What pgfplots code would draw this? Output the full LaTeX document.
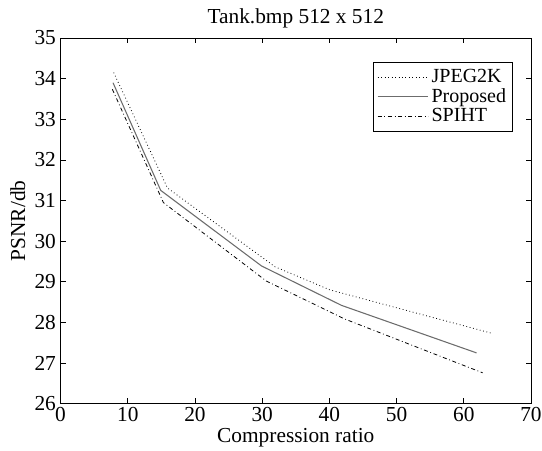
\documentclass[border=0pt]{standalone}
\usepackage{pgfplots}
\pgfplotsset{compat=1.18}
\usepackage{fontspec}
\setmainfont{Liberation Serif}
\begin{document}
\fontsize{16}{19}\selectfont
\begin{tikzpicture}
\begin{axis}[
    width=352.5pt, height=274pt, scale only axis,
    xmin=0, xmax=70, ymin=26, ymax=35,
    xtick={0,10,...,70}, ytick={26,27,...,35},
    tick align=inside, major tick length=4pt,
    tick style={black, line width=0.6pt},
    axis line style={line width=0.6pt},
    /pgf/number format/assume math mode=true,
    ticklabel style={font=\fontsize{16}{19}\selectfont},
    xticklabel style={yshift=3pt},
    yticklabel style={xshift=2pt},
    title={Tank.bmp 512 x 512},
    title style={font=\fontsize{16}{19}\selectfont, yshift=-4pt},
    xlabel={Compression ratio},
    ylabel={PSNR/db},
    label style={font=\fontsize{16}{19}\selectfont},
    xlabel style={yshift=6pt},
    ylabel style={yshift=-4pt},
    legend style={at={(0.962,0.934)}, anchor=north east, draw=black,
        line width=0.5pt, font=\fontsize{15}{17}\selectfont,
        inner sep=3pt, row sep=-2pt, cells={anchor=west}},
    legend cell align=left,
    legend image code/.code={\draw[#1] (0pt,0pt) -- (38pt,0pt);},
]
\addplot[black, line width=0.6pt, dotted] coordinates {
    (7.9,34.15) (15.9,31.31) (31.9,29.37) (40.1,28.80) (64.0,27.74)};
\addplot[gray!85!black, line width=0.8pt] coordinates {
    (7.8,33.90) (14.9,31.25) (29.9,29.39) (41.8,28.42) (61.9,27.25)};
\addplot[black, line width=0.6pt, dash dot] coordinates {
    (7.7,33.74) (15.3,30.95) (30.6,29.02) (42.2,28.09) (62.8,26.76)};
\legend{JPEG2K, Proposed, SPIHT}
\coordinate (sw) at (rel axis cs:0,0);
\coordinate (ne) at (rel axis cs:1,1);
\end{axis}
\pgfresetboundingbox
\path ([xshift=-45.4pt,yshift=-35.25pt]sw) rectangle ([xshift=8.25pt,yshift=28.5pt]ne);
\end{tikzpicture}
\end{document}
